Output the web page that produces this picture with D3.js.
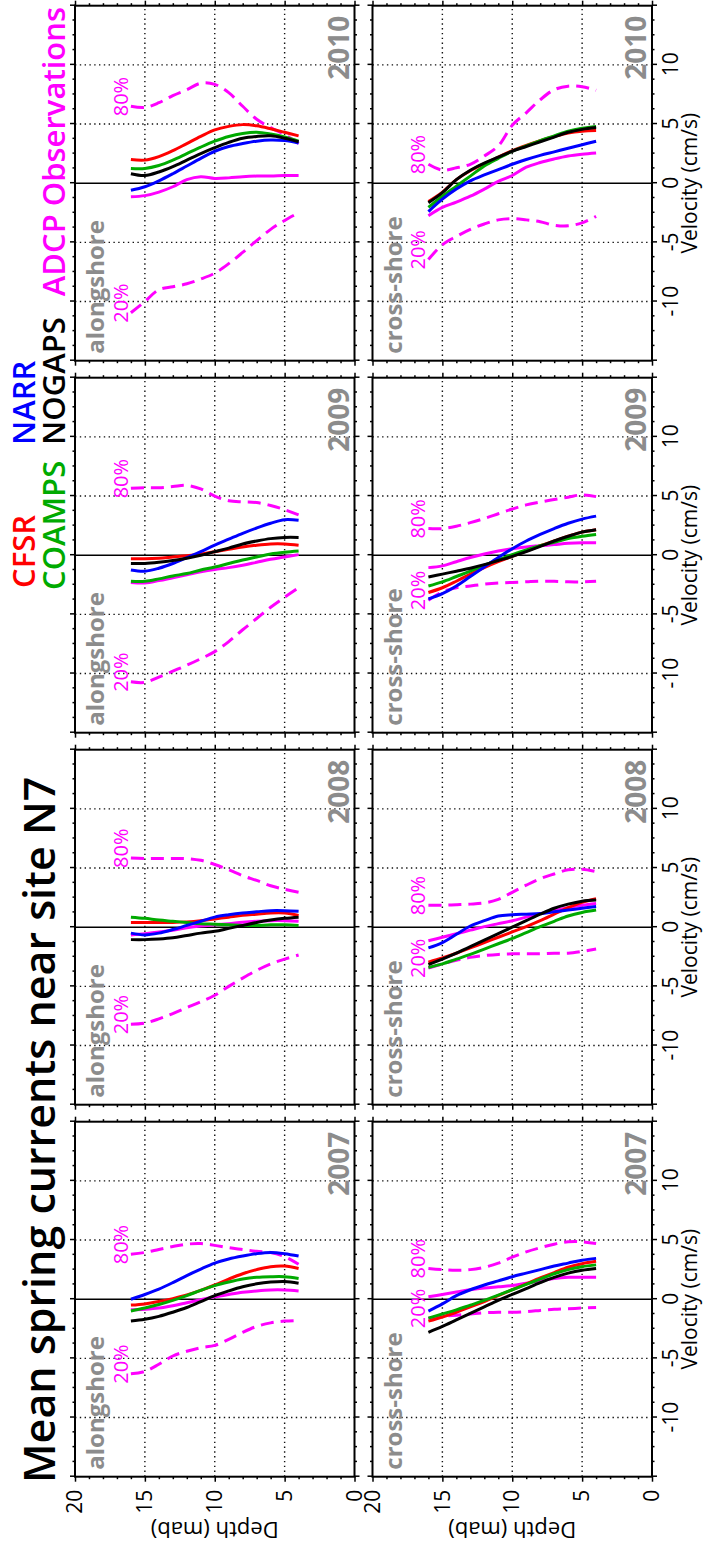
<!DOCTYPE html>
<html>
<head>
<meta charset="utf-8">
<script src="https://cdn.jsdelivr.net/npm/d3@7"></script>
<style>
	body { margin: 0; background: #fff; }
	svg { display: block; font-family: "Open Sans", sans-serif; }
</style>
</head>
<body>
<script>
var years = ["2007", "2008", "2009", "2010"];
var components = ["alongshore", "cross-shore"];
var depths = [16, 15, 14, 13, 12, 11, 10, 9, 8, 7, 6, 5, 4];
var velocityTicks = [-15, -10, -5, 0, 5, 10, 15];
var depthTicks = [0, 5, 10, 15, 20];
var sourceNames = ["CFSR", "COAMPS", "NARR", "NOGAPS", "ADCP Observations"];
var sourceColors = ["#ff0000", "#00aa00", "#0000ff", "#000000", "#ff00ff"];

// one row per year (2007..2010), values in cm/s at the depths above
var cfsrAlong = [
	[-0.5, -0.4, -0.2, 0.05, 0.35, 0.75, 1.2, 1.7, 2.15, 2.5, 2.75, 2.8, 2.6],
	[0.4, 0.4, 0.4, 0.4, 0.45, 0.55, 0.7, 0.85, 1.0, 1.1, 1.2, 1.2, 1.0],
	[-0.3, -0.3, -0.25, -0.15, -0.05, 0.1, 0.3, 0.5, 0.7, 0.85, 0.95, 0.95, 0.85],
	[2.0, 1.95, 2.25, 2.75, 3.35, 3.95, 4.5, 4.8, 4.95, 4.85, 4.6, 4.3, 4.0]
];
var coampsAlong = [
	[-1.0, -0.75, -0.45, -0.1, 0.3, 0.75, 1.15, 1.45, 1.7, 1.85, 1.9, 1.9, 1.75],
	[0.85, 0.75, 0.6, 0.5, 0.4, 0.3, 0.25, 0.2, 0.15, 0.15, 0.2, 0.2, 0.15],
	[-2.2, -2.2, -2.0, -1.75, -1.55, -1.25, -1.0, -0.7, -0.4, -0.15, 0.1, 0.25, 0.35],
	[1.25, 1.25, 1.5, 1.95, 2.5, 3.05, 3.55, 3.95, 4.2, 4.3, 4.15, 3.9, 3.55]
];
var narrAlong = [
	[0.0, 0.4, 0.85, 1.4, 2.0, 2.55, 3.05, 3.4, 3.65, 3.85, 3.95, 3.85, 3.65],
	[-0.5, -0.65, -0.5, -0.2, 0.15, 0.5, 0.85, 1.05, 1.2, 1.3, 1.4, 1.4, 1.35],
	[-1.25, -1.35, -1.1, -0.7, -0.2, 0.3, 0.85, 1.35, 1.85, 2.3, 2.7, 3.0, 2.95],
	[-0.6, -0.3, 0.2, 0.8, 1.45, 2.1, 2.7, 3.1, 3.35, 3.55, 3.65, 3.6, 3.4]
];
var nogapsAlong = [
	[-1.85, -1.7, -1.45, -1.1, -0.7, -0.2, 0.3, 0.7, 1.05, 1.3, 1.45, 1.5, 1.35],
	[-1.05, -1.05, -1.0, -0.9, -0.7, -0.5, -0.35, -0.1, 0.15, 0.4, 0.6, 0.75, 0.85],
	[-0.7, -0.7, -0.6, -0.45, -0.25, 0.0, 0.3, 0.6, 0.95, 1.2, 1.4, 1.5, 1.5],
	[0.8, 0.65, 0.95, 1.4, 1.95, 2.5, 3.0, 3.45, 3.8, 3.95, 4.0, 3.8, 3.5]
];
var adcpAlong = [
	[-0.9, -0.85, -0.75, -0.55, -0.3, -0.05, 0.2, 0.4, 0.58, 0.7, 0.78, 0.78, 0.7],
	[-0.65, -0.55, -0.4, -0.25, -0.05, 0.1, 0.2, 0.3, 0.42, 0.5, 0.55, 0.55, 0.5],
	[-2.3, -2.35, -2.15, -1.9, -1.65, -1.4, -1.2, -1.05, -0.85, -0.6, -0.35, -0.15, 0.05],
	[-1.15, -1.05, -0.75, -0.3, 0.3, 0.55, 0.4, 0.45, 0.55, 0.6, 0.6, 0.65, 0.65]
];
var adcp80Along = [
	[3.8, 3.95, 4.2, 4.45, 4.65, 4.7, 4.55, 4.35, 4.2, 4.05, 3.95, 3.6, 2.95],
	[5.85, 5.8, 5.8, 5.8, 5.8, 5.65, 5.3, 4.85, 4.35, 3.95, 3.5, 3.2, 2.95],
	[5.65, 5.7, 5.7, 5.8, 5.9, 5.6, 5.0, 4.6, 4.5, 4.45, 4.2, 3.85, 3.4],
	[6.5, 6.4, 6.8, 7.4, 7.9, 8.45, 8.35, 7.65, 6.5, 5.4, 4.7, 4.1, 3.35]
];
var adcp20Along = [
	[-6.3, -6.1, -5.5, -4.8, -4.4, -4.1, -3.9, -3.4, -2.8, -2.3, -2.0, -1.85, -1.8],
	[-8.2, -8.1, -7.75, -7.3, -6.8, -6.3, -5.75, -5.0, -4.3, -3.65, -3.1, -2.7, -2.35],
	[-10.7, -10.75, -10.3, -9.8, -9.3, -8.75, -8.15, -7.3, -6.3, -5.35, -4.4, -3.55, -2.75],
	[-10.95, -10.0, -9.0, -8.75, -8.5, -8.1, -7.6, -6.8, -5.85, -4.85, -3.9, -3.15, -2.5]
];

var cfsrCross = [
	[-1.85, -1.5, -1.1, -0.65, -0.2, 0.3, 0.8, 1.3, 1.8, 2.25, 2.7, 3.0, 3.2],
	[-2.95, -2.6, -2.2, -1.75, -1.3, -0.85, -0.4, 0.05, 0.55, 1.1, 1.65, 2.1, 2.4],
	[-3.15, -2.75, -2.2, -1.6, -1.05, -0.55, -0.1, 0.35, 0.8, 1.2, 1.6, 1.95, 2.15],
	[-1.55, -0.75, 0.3, 1.05, 1.65, 2.2, 2.75, 3.2, 3.6, 3.95, 4.25, 4.4, 4.45]
];
var coampsCross = [
	[-1.6, -1.25, -0.9, -0.5, -0.1, 0.35, 0.8, 1.25, 1.7, 2.15, 2.5, 2.75, 2.9],
	[-3.4, -3.1, -2.7, -2.3, -1.85, -1.4, -0.95, -0.45, 0.05, 0.5, 0.95, 1.25, 1.45],
	[-2.6, -2.25, -1.8, -1.35, -0.85, -0.4, 0.05, 0.45, 0.8, 1.1, 1.4, 1.6, 1.75],
	[-2.05, -1.1, -0.25, 0.6, 1.45, 2.1, 2.7, 3.15, 3.6, 4.0, 4.4, 4.65, 4.8]
];
var narrCross = [
	[-1.0, -0.4, 0.3, 0.8, 1.2, 1.55, 1.9, 2.2, 2.5, 2.8, 3.05, 3.3, 3.45],
	[-1.75, -1.3, -0.6, 0.1, 0.55, 0.95, 1.05, 1.1, 1.15, 1.3, 1.45, 1.6, 1.75],
	[-3.7, -3.25, -2.6, -1.8, -1.0, -0.2, 0.55, 1.2, 1.75, 2.25, 2.7, 3.05, 3.3],
	[-2.4, -1.35, -0.5, 0.2, 0.7, 1.15, 1.6, 2.0, 2.35, 2.65, 2.95, 3.25, 3.55]
];
var nogapsCross = [
	[-2.8, -2.3, -1.75, -1.2, -0.65, -0.1, 0.4, 0.9, 1.4, 1.85, 2.2, 2.45, 2.6],
	[-3.15, -2.7, -2.2, -1.65, -1.1, -0.55, 0.0, 0.55, 1.1, 1.6, 1.95, 2.2, 2.3],
	[-1.85, -1.6, -1.35, -1.1, -0.8, -0.45, -0.1, 0.3, 0.75, 1.2, 1.6, 1.95, 2.15],
	[-1.65, -0.8, 0.3, 1.1, 1.7, 2.2, 2.7, 3.1, 3.5, 3.9, 4.3, 4.55, 4.7]
];
var adcpCross = [
	[0.2, 0.4, 0.6, 0.8, 0.95, 1.05, 1.15, 1.35, 1.55, 1.75, 1.85, 1.85, 1.85],
	[-1.15, -0.85, -0.55, -0.25, 0.05, 0.3, 0.55, 0.85, 1.15, 1.4, 1.65, 1.85, 2.0],
	[-1.05, -0.9, -0.55, -0.2, 0.1, 0.35, 0.55, 0.7, 0.8, 0.9, 1.0, 1.05, 1.05],
	[-2.75, -2.05, -1.6, -1.1, -0.5, 0.15, 0.65, 1.35, 1.75, 2.05, 2.3, 2.45, 2.55]
];
var adcp80Cross = [
	[2.6, 2.5, 2.45, 2.5, 2.7, 3.05, 3.55, 4.0, 4.35, 4.65, 4.85, 4.85, 4.7],
	[1.85, 1.85, 1.9, 1.95, 2.05, 2.35, 2.95, 3.55, 4.1, 4.5, 4.85, 4.9, 4.7],
	[2.25, 2.25, 2.45, 2.75, 3.1, 3.5, 3.9, 4.25, 4.5, 4.7, 4.9, 5.1, 4.95],
	[1.6, 1.1, 1.3, 1.6, 2.3, 3.15, 4.9, 5.95, 7.05, 7.9, 8.2, 8.15, 7.85]
];
var adcp20Cross = [
	[-1.6, -1.45, -1.35, -1.25, -1.15, -1.1, -1.1, -1.05, -0.95, -0.85, -0.8, -0.75, -0.7],
	[-3.45, -3.1, -2.8, -2.55, -2.4, -2.3, -2.25, -2.25, -2.25, -2.2, -2.2, -2.05, -1.85],
	[-3.8, -3.1, -2.75, -2.6, -2.45, -2.35, -2.3, -2.25, -2.2, -2.2, -2.25, -2.25, -2.2],
	[-6.45, -5.2, -4.5, -3.9, -3.45, -3.1, -3.0, -3.1, -3.25, -3.55, -3.6, -3.35, -2.8]
];

// --- layout (figure is drawn landscape, then turned a quarter turn) ---
var figW = 1553;
var panelW = 355, panelH = 279.5;
var colLeft = 76.3, colStep = 372;
var rowTop = [75, 372.5];
var gray = "#8c8c8c";

var svg = d3.select("body").append("svg")
	.attr("width", 711)
	.attr("height", 1553);

svg.append("rect").attr("width", 711).attr("height", 1553).attr("fill", "#fff");

var fig = svg.append("g")
	.attr("transform", "translate(0," + figW + ") rotate(-90)");

var x = d3.scaleLinear().domain([-15, 15]).range([0, panelW]);
var y = d3.scaleLinear().domain([0, 20]).range([panelH, 0]);

var profile = d3.line()
	.x(function(d) { return x(d[0]); })
	.y(function(d) { return y(d[1]); })
	.curve(d3.curveCatmullRom.alpha(0.5));

// drawing order: observations first, models on top
var series = [
	{ along: adcp80Along, cross: adcp80Cross, color: sourceColors[4], dash: "13,7", pct: "80%" },
	{ along: adcp20Along, cross: adcp20Cross, color: sourceColors[4], dash: "13,7", pct: "20%" },
	{ along: adcpAlong, cross: adcpCross, color: sourceColors[4] },
	{ along: cfsrAlong, cross: cfsrCross, color: sourceColors[0] },
	{ along: coampsAlong, cross: coampsCross, color: sourceColors[1] },
	{ along: narrAlong, cross: narrCross, color: sourceColors[2] },
	{ along: nogapsAlong, cross: nogapsCross, color: sourceColors[3] }
];

function velLabel(d) {
	return Math.abs(d) === 15 ? "" : String(d);
}

function addAxis(g, axis, tx, ty, values, size, pad, fmt) {
	var a = g.append("g")
		.attr("transform", "translate(" + tx + "," + ty + ")")
		.call(axis.tickValues(values).tickSize(size).tickPadding(pad).tickFormat(fmt));
	a.attr("font-family", null).attr("font-size", 21);
	a.select(".domain").remove();
	a.selectAll(".tick line").attr("stroke", "#000").attr("stroke-width", 1.5);
	a.selectAll(".tick text").attr("fill", "#000");
	return a;
}

function drawPanel(col, row) {
	var left = colLeft + col * colStep;
	var top = rowTop[row];
	var g = fig.append("g").attr("transform", "translate(" + left + "," + top + ")");
	var isBottom = row === 1, isFirst = col === 0;

	// dotted grid
	g.selectAll(".vgrid")
		.data(velocityTicks.filter(function(v) { return Math.abs(v) !== 15 && v !== 0; }))
		.enter().append("line")
		.attr("x1", function(d) { return x(d); })
		.attr("x2", function(d) { return x(d); })
		.attr("y1", 0).attr("y2", panelH)
		.attr("stroke", "#111").attr("stroke-width", 1.4).attr("stroke-dasharray", "1.4,3.4");
	g.selectAll(".hgrid")
		.data([5, 10, 15])
		.enter().append("line")
		.attr("x1", 0).attr("x2", panelW)
		.attr("y1", function(d) { return y(d); })
		.attr("y2", function(d) { return y(d); })
		.attr("stroke", "#111").attr("stroke-width", 1.4).attr("stroke-dasharray", "1.4,3.4");

	g.append("line")
		.attr("x1", x(0)).attr("x2", x(0))
		.attr("y1", 0).attr("y2", panelH)
		.attr("stroke", "#000").attr("stroke-width", 1.5);

	g.append("text")
		.attr("x", 7).attr("y", 29)
		.attr("fill", gray)
		.style("font-size", "24px").style("font-weight", 700)
		.text(components[row]);
	g.append("text")
		.attr("x", panelW - 10).attr("y", panelH - 6)
		.attr("text-anchor", "end")
		.attr("fill", gray)
		.style("font-size", "28px").style("font-weight", 700)
		.text(years[col]);

	series.forEach(function(s) {
		var vals = row === 0 ? s.along[col] : s.cross[col];
		var pts = vals.map(function(v, i) { return [v, depths[i]]; });
		g.append("path")
			.datum(pts)
			.attr("d", profile)
			.attr("fill", "none")
			.attr("stroke", s.color)
			.attr("stroke-width", 3)
			.attr("stroke-dasharray", s.dash || null);
		if (s.pct) {
			g.append("text")
				.attr("x", x(vals[0]) - 10)
				.attr("y", y(depths[0]) - 3)
				.attr("fill", s.color)
				.style("font-size", "20px")
				.text(s.pct);
		}
	});

	g.append("rect")
		.attr("width", panelW).attr("height", panelH)
		.attr("fill", "none").attr("stroke", "#000").attr("stroke-width", 2);

	var velMinor = d3.range(-15, 15.01, 1.25).filter(function(v) { return v % 5 !== 0; });
	var depMinor = d3.range(0, 21, 1).filter(function(v) { return v % 5 !== 0; });
	var none = function() { return ""; };

	addAxis(g, d3.axisTop(x), 0, 0, velocityTicks, 5, 3, none);
	addAxis(g, d3.axisTop(x), 0, 0, velMinor, 2.5, 3, none);
	addAxis(g, d3.axisBottom(x), 0, panelH, velocityTicks, 5, 6, isBottom ? velLabel : none);
	addAxis(g, d3.axisBottom(x), 0, panelH, velMinor, 2.5, 3, none);
	addAxis(g, d3.axisLeft(y), 0, 0, depthTicks, 5, 8, isFirst ? String : none);
	addAxis(g, d3.axisLeft(y), 0, 0, depMinor, 2.5, 3, none);
	addAxis(g, d3.axisRight(y), panelW, 0, depthTicks, 5, 3, none);
	addAxis(g, d3.axisRight(y), panelW, 0, depMinor, 2.5, 3, none);

	if (isBottom) {
		g.append("text")
			.attr("x", panelW / 2).attr("y", panelH + 45)
			.attr("text-anchor", "middle")
			.style("font-size", "21px")
			.text("Velocity (cm/s)");
	}
	if (isFirst) {
		g.append("text")
			.attr("transform", "translate(" + (31 - left) + "," + (panelH / 2) + ") rotate(-90)")
			.attr("text-anchor", "middle")
			.style("font-size", "22px")
			.text("Depth (mab)");
	}
}

years.forEach(function(yr, col) {
	components.forEach(function(c, row) {
		drawPanel(col, row);
	});
});

// title
fig.append("text")
	.attr("x", 70).attr("y", 55)
	.style("font-size", "43px").style("font-weight", 600)
	.text("Mean spring currents near site N7");

// legend, two lines
var legendX = [965, 963, 1108, 1108, 1546];
var legendY = [35, 65, 35, 65, 65];
fig.selectAll(".legend")
	.data(sourceNames)
	.enter().append("text")
	.attr("class", "legend")
	.attr("x", function(d, i) { return legendX[i]; })
	.attr("y", function(d, i) { return legendY[i]; })
	.attr("text-anchor", function(d, i) { return i === 4 ? "end" : "start"; })
	.attr("fill", function(d, i) { return sourceColors[i]; })
	.style("font-size", "31px").style("font-weight", 600)
	.text(function(d) { return d; });
</script>
</body>
</html>
